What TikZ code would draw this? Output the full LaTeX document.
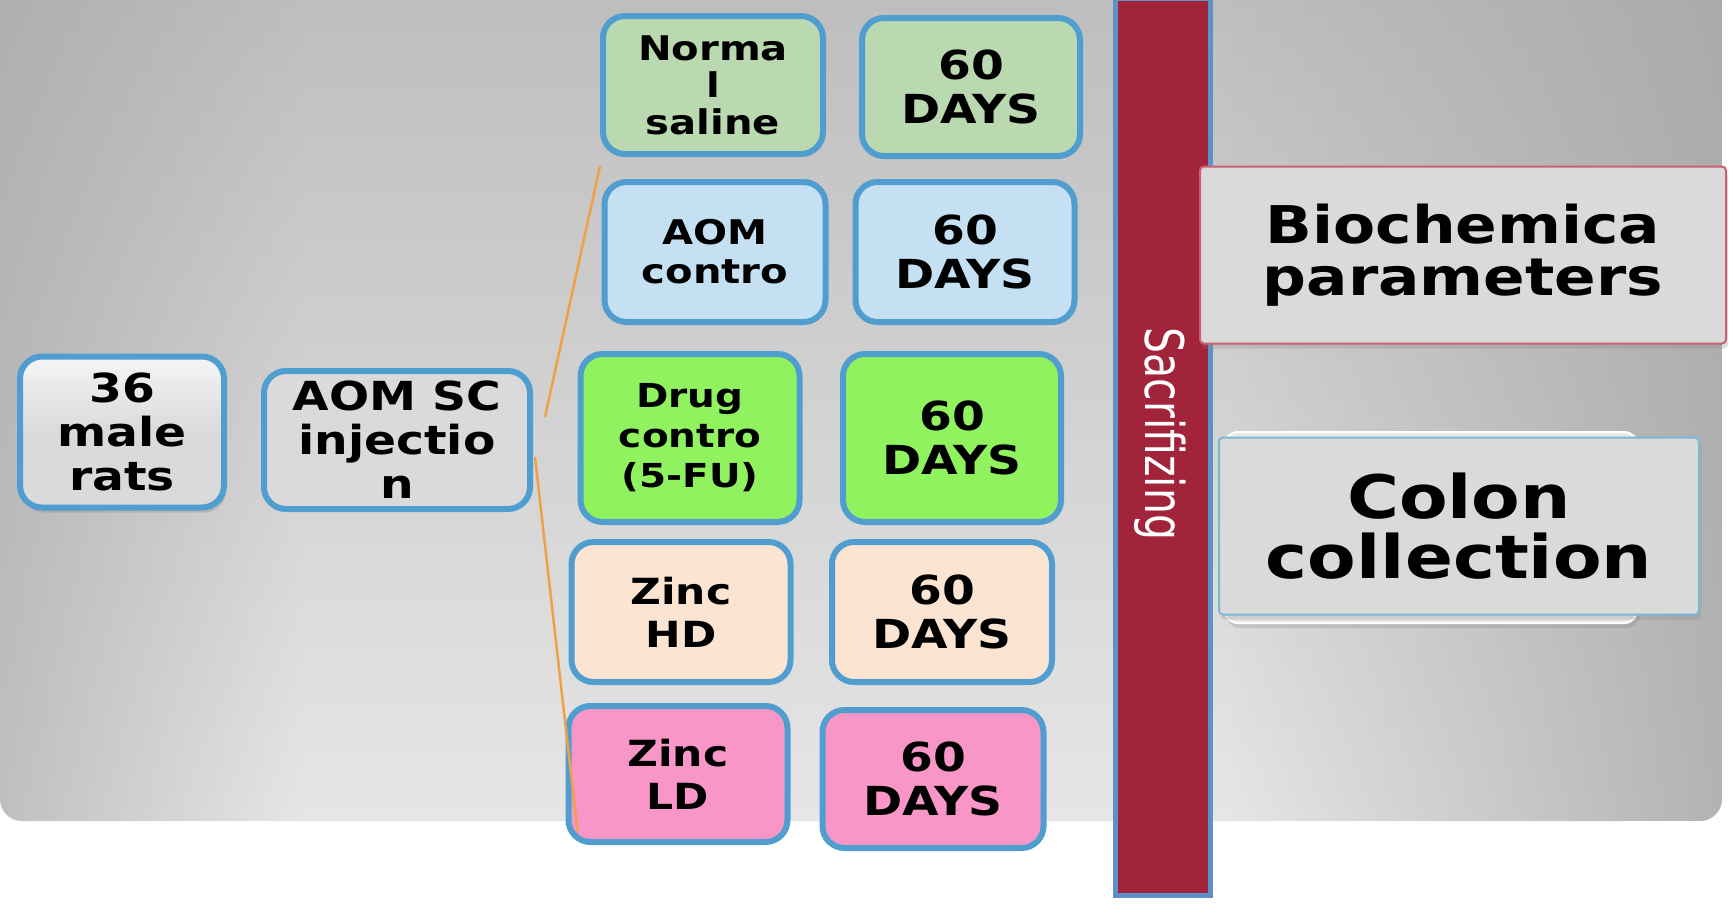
\documentclass[tikz,border=0pt]{standalone}
\usepackage{fontspec}
\usepackage{graphicx}
\newfontfamily\vb{DejaVu Sans}[FakeStretch=1.18]
\newfontfamily\vn{DejaVu Sans}
\usetikzlibrary{shadows,calc,fadings}
\definecolor{bord}{RGB}{80,158,208}
\definecolor{cgray}{RGB}{218,218,218}
\definecolor{cgreen}{RGB}{187,217,176}
\definecolor{cblue}{RGB}{197,224,242}
\definecolor{clime}{RGB}{144,242,94}
\definecolor{cpeach}{RGB}{252,228,210}
\definecolor{cpink}{RGB}{248,150,200}
\definecolor{barred}{RGB}{162,36,58}
\definecolor{barblue}{RGB}{95,145,200}
\definecolor{redline}{RGB}{205,95,115}
\definecolor{blueline}{RGB}{125,182,215}
\definecolor{orangeline}{RGB}{240,160,70}
\definecolor{bgtop}{RGB}{188,188,188}
\definecolor{bgmid}{RGB}{212,212,212}
\definecolor{bgbot}{RGB}{230,230,230}
\definecolor{bgedge}{RGB}{166,166,166}
\begin{document}
\begin{tikzpicture}[x=1pt,y=-1pt,
  box/.style={draw=bord, line width=6pt, rounded corners=22pt, align=center, inner sep=0pt, text=black},
  big/.style={font=\vb\bfseries\fontsize{40}{44}\selectfont},
  zin/.style={font=\vb\bfseries\fontsize{36}{43}\selectfont},
  outbox/.style={line width=2pt, rounded corners=4pt, fill=cgray, align=center, inner sep=0pt,
     font=\vb\bfseries, drop shadow={shadow xshift=2pt, shadow yshift=-5pt, opacity=.25}},
  link/.style={draw=orangeline, line width=2.5pt}]
\useasboundingbox (0,0) rectangle (1733,903);
\clip (0,0) rectangle (1733,903);
\fill[white] (0,0) rectangle (1733,903);
% background panel
\begin{scope}
\clip[rounded corners=22pt] (0,-40) rectangle (1722,821);
\shade[top color=bgtop, middle color=bgmid, bottom color=bgbot] (0,-40) rectangle (1722,821);
\fill[bgedge, fill opacity=.6, path fading=east] (0,-40) rectangle (300,821);
\fill[bgedge, fill opacity=.8, path fading=west] (1230,-40) rectangle (1722,821);
\end{scope}
% left boxes
\node[box, big, minimum width=204pt, minimum height=151pt, top color=white!92!gray, bottom color=cgray, middle color=cgray,
      drop shadow={shadow xshift=2pt, shadow yshift=-5pt, opacity=.3}] (rats) at (122,432) {36\\male\\rats};
\node[box, big, fill=cgray, minimum width=266pt, minimum height=138pt] (inj) at (397,440) {AOM SC\\injectio\\n};
% group boxes
\node[box, font=\vb\bfseries\fontsize{34}{37}\selectfont, fill=cgreen, minimum width=220pt, minimum height=138pt] (n1) at (713,85) {Norma\\l\\saline};
\node[box, big, fill=cgreen, minimum width=218pt, minimum height=138pt] (d1) at (971,87) {60\\DAYS};
\node[box, font=\vb\bfseries\fontsize{34}{39}\selectfont, fill=cblue, minimum width=221pt, minimum height=140pt] (n2) at (715,252) {AOM\\contro};
\node[box, big, fill=cblue, minimum width=219pt, minimum height=140pt] (d2) at (965,252) {60\\DAYS};
\node[box, font=\vb\bfseries\fontsize{33}{40}\selectfont, fill=clime, minimum width=219pt, minimum height=168pt] (n3) at (690,438) {Drug\\contro\\(5-FU)};
\node[box, big, fill=clime, minimum width=218pt, minimum height=168pt] (d3) at (952,438) {60\\DAYS};
\node[box, zin, fill=cpeach, minimum width=219pt, minimum height=140pt] (n4) at (681,612) {Zinc\\HD};
\node[box, big, fill=cpeach, minimum width=220pt, minimum height=140pt] (d4) at (942,612) {60\\DAYS};
\node[box, zin, fill=cpink, minimum width=219pt, minimum height=136pt] (n5) at (678,774) {Zinc\\LD};
\node[box, big, fill=cpink, minimum width=221pt, minimum height=138pt] (d5) at (933,779) {60\\DAYS};
% connectors
\coordinate (s1) at ($(inj.east)+(12,-23)$);
\coordinate (e1) at ($(n1.south west)+(0,9)$);
\coordinate (s2) at ($(inj.east)+(2,17)$);
\coordinate (e2) at ($(n5.south west)+(12,-14)$);
\draw[link] (s1) -- (e1);
\draw[link] (s2) -- (e2);
% sacrifizing bar
\node[draw=barblue, line width=5pt, fill=barred, minimum width=95pt, minimum height=897pt, inner sep=0pt] (bar) at (1163,447) {};
\node[rotate=-90, text=white, font=\vn\fontsize{41}{41}\selectfont, inner sep=0pt] (sac) at (1160,434) {\scalebox{1}[1.3]{Sacrifizing}};
% right boxes
\node[outbox, draw=redline, minimum width=526pt, minimum height=177pt, font=\vb\bfseries\fontsize{52}{52}\selectfont] (bio) at (1463,255) {Biochemica\\parameters};
\fill[gray!18, draw=white, line width=2pt, rounded corners=14pt,
      drop shadow={shadow xshift=2pt, shadow yshift=-5pt, opacity=.25}] (1224,432) rectangle (1638,623);
\node[outbox, draw=blueline, minimum width=480pt, minimum height=177pt, drop shadow={opacity=0},
      font=\vb\bfseries\fontsize{60}{60}\selectfont] (col) at (1459,526) {Colon\\collection};
\end{tikzpicture}
\end{document}
